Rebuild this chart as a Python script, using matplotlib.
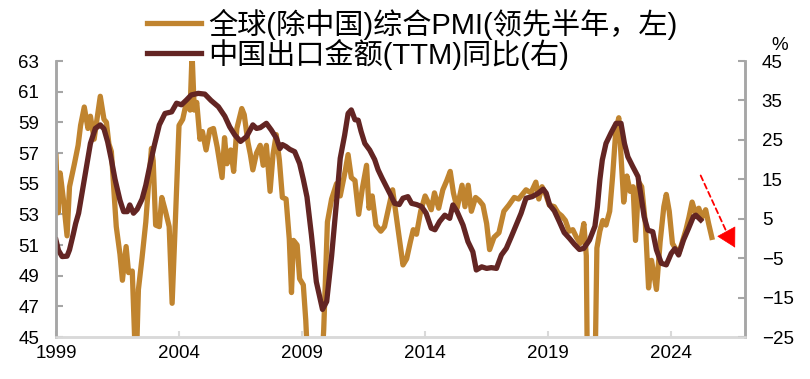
import matplotlib
matplotlib.use("Agg")
import matplotlib.pyplot as plt

# 全球(除中国)综合PMI，领先半年（时间已右移），左轴
pmi_t = [
    1999.00, 1999.08, 1999.17, 1999.30, 1999.45, 1999.55, 1999.75, 1999.90,
    2000.00, 2000.15, 2000.30, 2000.40, 2000.55, 2000.70, 2000.80, 2000.95,
    2001.05, 2001.15, 2001.25, 2001.35, 2001.45, 2001.60, 2001.70, 2001.85,
    2001.95, 2002.10, 2002.25, 2002.35, 2002.50, 2002.65, 2002.75, 2002.88,
    2002.95, 2003.05, 2003.20, 2003.30, 2003.45, 2003.60, 2003.72, 2003.85,
    2004.00, 2004.15, 2004.30, 2004.45, 2004.53, 2004.62, 2004.72, 2004.85,
    2004.95, 2005.10, 2005.25, 2005.40, 2005.55, 2005.75, 2005.85, 2005.95,
    2006.10, 2006.22, 2006.35, 2006.55, 2006.65, 2006.80, 2006.90, 2007.00,
    2007.15, 2007.30, 2007.42, 2007.55, 2007.70, 2007.82, 2007.95, 2008.08,
    2008.20, 2008.35, 2008.48, 2008.57, 2008.65, 2008.80, 2008.90, 2009.05,
    2009.15, 2009.30, 2009.55, 2009.78, 2009.88, 2010.03, 2010.20, 2010.40,
    2010.55, 2010.75, 2010.87, 2011.00, 2011.15, 2011.30, 2011.45, 2011.62,
    2011.72, 2011.85, 2012.00, 2012.20, 2012.35, 2012.50, 2012.68, 2012.80,
    2012.97, 2013.10, 2013.25, 2013.40, 2013.52, 2013.65, 2013.82, 2014.00,
    2014.12, 2014.25, 2014.38, 2014.55, 2014.72, 2014.88, 2015.02, 2015.15,
    2015.30, 2015.50, 2015.62, 2015.75, 2015.88, 2016.05, 2016.20, 2016.35,
    2016.50, 2016.62, 2016.80, 2017.00, 2017.20, 2017.40, 2017.62, 2017.80,
    2017.95, 2018.10, 2018.30, 2018.50, 2018.62, 2018.75, 2018.90, 2019.05,
    2019.25, 2019.40, 2019.55, 2019.70, 2019.85, 2020.00, 2020.15, 2020.30,
    2020.45, 2020.55, 2020.62, 2020.75, 2020.88, 2020.98, 2021.10, 2021.22,
    2021.35, 2021.50, 2021.62, 2021.75, 2021.87, 2021.97, 2022.07, 2022.20,
    2022.33, 2022.45, 2022.55, 2022.68, 2022.80, 2022.95, 2023.08, 2023.20,
    2023.40, 2023.55, 2023.70, 2023.80, 2023.92, 2024.05, 2024.20, 2024.32,
    2024.45, 2024.60, 2024.72, 2024.85, 2024.98, 2025.12, 2025.25, 2025.40,
    2025.52, 2025.65,
]
pmi_v = [
    56.8, 53.1, 55.7, 54.0, 51.6, 54.8, 56.3, 57.5,
    58.8, 60.0, 58.6, 59.4, 57.9, 59.6, 60.7, 59.2,
    59.0, 57.6, 57.1, 54.6, 52.2, 50.4, 48.7, 50.9,
    49.2, 49.3, 42.5, 48.1, 50.2, 52.5, 54.7, 57.3,
    56.5, 52.3, 52.2, 54.1, 53.2, 52.2, 47.2, 52.5,
    58.8, 59.2, 60.3, 59.8, 63.5, 59.8, 60.3, 57.9,
    58.4, 57.2, 58.5, 58.6, 57.4, 55.4, 58.0, 56.3,
    57.2, 55.8, 58.6, 59.9, 59.5, 57.7, 56.9, 55.9,
    57.0, 57.5, 56.2, 57.5, 54.5, 56.9, 58.2, 56.5,
    54.1, 54.0, 51.4, 47.9, 51.3, 51.0, 48.8, 48.4,
    46.1, 41.0, 39.5, 42.5, 45.5, 52.5, 54.0, 55.0,
    54.2, 55.8, 56.9, 55.4, 55.2, 53.0, 54.7, 56.2,
    53.4, 54.2, 52.3, 51.9, 52.2, 53.3, 54.6, 53.2,
    51.2, 49.7, 50.1, 51.2, 52.0, 51.7, 53.2, 54.2,
    53.8, 53.3, 54.4, 53.4, 54.6, 55.2, 55.8, 54.4,
    53.4, 54.9, 53.5, 54.9, 53.2, 54.1, 53.9, 53.6,
    52.4, 50.7, 51.5, 51.8, 53.2, 53.6, 54.1, 54.0,
    54.3, 54.6, 54.4, 55.1, 54.0, 54.8, 54.3, 53.6,
    53.5, 53.1, 52.9, 52.6, 51.9, 52.0, 51.5, 51.1,
    52.4, 50.3, 38.0, 33.0, 40.0, 50.8, 51.9, 52.6,
    52.3, 53.2, 55.5, 58.5, 59.3, 56.5, 53.8, 55.5,
    54.5, 54.8, 51.3, 55.1, 54.8, 52.4, 48.2, 50.0,
    48.1, 51.2, 53.5, 54.3, 53.2, 51.1, 50.7, 50.5,
    51.2, 52.0, 52.8, 53.8, 53.1, 53.4, 52.8, 53.3,
    52.4, 51.5,
]

# 中国出口金额(TTM)同比，%，右轴
exp_t = [
    1999.00, 1999.10, 1999.25, 1999.45, 1999.55, 1999.70, 1999.80, 1999.92,
    2000.10, 2000.25, 2000.40, 2000.60, 2000.80, 2000.95, 2001.10, 2001.25,
    2001.40, 2001.60, 2001.75, 2001.90, 2002.00, 2002.15, 2002.30, 2002.50,
    2002.65, 2002.85, 2003.00, 2003.20, 2003.43, 2003.70, 2003.90, 2004.10,
    2004.30, 2004.50, 2004.78, 2005.05, 2005.30, 2005.60, 2005.86, 2006.06,
    2006.27, 2006.50, 2006.74, 2007.00, 2007.15, 2007.30, 2007.55, 2007.75,
    2007.96, 2008.10, 2008.20, 2008.35, 2008.50, 2008.70, 2008.90, 2009.05,
    2009.20, 2009.38, 2009.58, 2009.83, 2010.00, 2010.20, 2010.40, 2010.55,
    2010.73, 2010.87, 2011.00, 2011.15, 2011.28, 2011.40, 2011.55, 2011.75,
    2011.95, 2012.09, 2012.25, 2012.43, 2012.60, 2012.76, 2012.95, 2013.10,
    2013.30, 2013.45, 2013.65, 2013.85, 2014.04, 2014.25, 2014.40, 2014.59,
    2014.80, 2015.00, 2015.13, 2015.30, 2015.54, 2015.74, 2015.94, 2016.08,
    2016.30, 2016.50, 2016.69, 2016.90, 2017.10, 2017.30, 2017.50, 2017.70,
    2017.90, 2018.10, 2018.35, 2018.58, 2018.80, 2018.92, 2019.06, 2019.25,
    2019.45, 2019.65, 2019.87, 2020.07, 2020.27, 2020.45, 2020.68, 2020.90,
    2021.00, 2021.10, 2021.20, 2021.35, 2021.55, 2021.76, 2021.96, 2022.10,
    2022.24, 2022.44, 2022.65, 2022.78, 2022.90, 2023.05, 2023.25, 2023.40,
    2023.60, 2023.80, 2024.00, 2024.15, 2024.30, 2024.50, 2024.70, 2024.90,
    2025.00, 2025.20,
]
exp_v = [
    -0.4, -3.0, -4.6, -4.5, -2.9, 1.0, 3.8, 6.4,
    13.0, 18.5, 24.1, 27.9, 28.8, 27.8, 24.5, 20.0,
    15.0, 9.7, 6.8, 6.8, 8.5, 6.4, 7.4, 10.0,
    13.5, 19.5, 23.7, 28.8, 31.7, 32.1, 34.3, 33.9,
    35.1, 36.4, 36.8, 36.6, 35.0, 33.4, 31.0, 28.3,
    26.2, 24.6, 25.8, 28.8, 27.9, 28.1, 29.2, 27.5,
    25.4, 22.8, 23.8, 23.3, 22.6, 22.0, 19.0, 15.0,
    10.5, 0.9, -11.0, -18.0, -16.0, -4.5, 9.3, 20.3,
    26.2, 31.7, 32.6, 30.1, 30.0, 27.1, 24.1, 22.4,
    20.0, 17.4, 15.3, 13.1, 11.0, 8.9, 8.6, 10.2,
    10.6, 8.9, 8.6, 8.1, 6.4, 2.6, 2.2, 4.3,
    5.9, 5.1, 8.5, 6.8, 3.4, -0.8, -3.4, -8.0,
    -7.2, -7.6, -7.4, -7.6, -4.2, -2.5, 0.4, 3.4,
    6.4, 10.2, 10.6, 11.4, 12.5, 11.5, 8.5, 7.0,
    4.3, 1.5, 0.0, -1.5, -2.8, -2.5, -0.4, 3.1,
    8.0, 14.8, 19.9, 24.1, 26.7, 29.2, 29.2, 24.1,
    20.7, 18.2, 15.7, 10.5, 5.5, 2.1, 1.7, -2.9,
    -6.3, -6.7, -3.8, -2.6, -4.2, -0.4, 2.5, 5.5,
    5.9, 4.7,
]

year_ticks = [1999, 2004, 2009, 2014, 2019, 2024]
left_ticks = list(range(45, 64, 2))
right_ticks = list(range(-25, 46, 10))

orange = "#C0842F"
brown = "#632523"
grey = "#A6A6A6"

plt.rcParams["font.family"] = ["Liberation Sans", "Noto Sans CJK SC"]
plt.rcParams["axes.unicode_minus"] = True

fig = plt.figure(figsize=(8.10, 3.79), dpi=100)
ax = fig.add_axes([0.0691, 0.1108, 0.8507, 0.7282])
ax2 = ax.twinx()

l1, = ax.plot(pmi_t, pmi_v, color=orange, lw=3.8, solid_joinstyle="round",
              label="全球(除中国)综合PMI(领先半年，左)")
l2, = ax2.plot(exp_t, exp_v, color=brown, lw=3.8, solid_joinstyle="round",
               label="中国出口金额(TTM)同比(右)")

ax.set_xlim(1999, 2027)
ax.set_ylim(45, 63)
ax2.set_ylim(-25, 45)
ax.set_xticks(year_ticks)
ax.set_xticklabels([str(y) for y in year_ticks])
ax.set_yticks(left_ticks)
ax2.set_yticks(right_ticks)

for a in (ax, ax2):
    a.spines["top"].set_visible(False)
    a.spines["left"].set_color(grey)
    a.spines["right"].set_color(grey)
    a.spines["left"].set_linewidth(1.8)
    a.spines["right"].set_linewidth(1.8)
    a.spines["bottom"].set_color("#D9D9D9")
    a.spines["bottom"].set_linewidth(1.8)

ax.tick_params(axis="y", direction="in", length=5, width=1.5, color=grey,
               labelsize=13.5, pad=12)
ax2.tick_params(axis="y", direction="in", length=5, width=1.5, color=grey,
                labelsize=13.5, pad=12)
ax.tick_params(axis="x", direction="in", length=4, width=1.5, color="#D9D9D9",
               labelsize=13.5, pad=6)

fig.text(0.962, 0.88, "%", fontsize=13.5, ha="center", va="center")

fig.legend(handles=[l1, l2], loc="upper left", bbox_to_anchor=(0.167, 1.008),
           frameon=False, fontsize=21, handlelength=1.85, handletextpad=0.25,
           labelspacing=-0.04, borderaxespad=0)

# 红色虚线箭头
ax.annotate("", xy=(2026.35, 51.5), xytext=(2025.15, 55.7),
            arrowprops=dict(arrowstyle="-", color="red", lw=1.3, ls=(0, (3, 2))),
            annotation_clip=False)
ax.annotate("", xy=(2026.65, 50.67), xytext=(2026.3, 51.7),
            arrowprops=dict(arrowstyle="-|>,head_length=0.9,head_width=0.5",
                            color="red", lw=0.5, mutation_scale=14),
            annotation_clip=False)

fig.savefig("out.png", dpi=100)
